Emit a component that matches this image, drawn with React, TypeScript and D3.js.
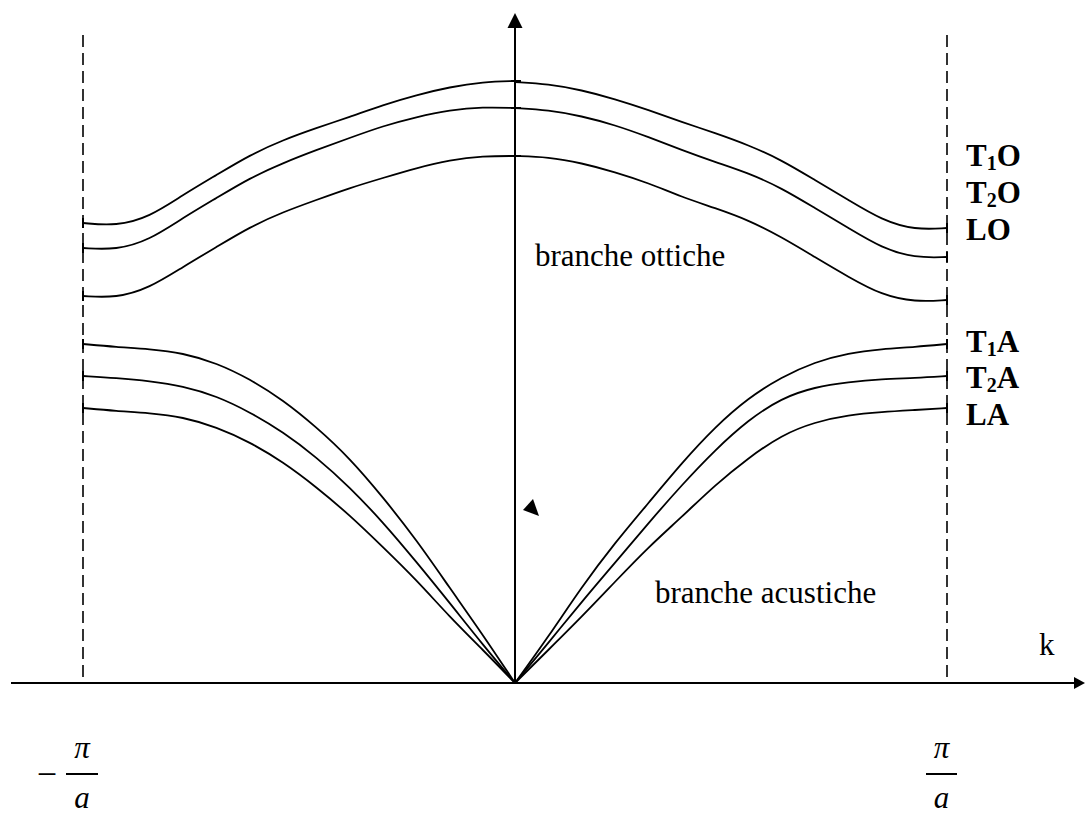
import React from 'react';
import * as d3 from 'd3';

// k grid (units of pi/a), left half and right half of the zone
const kLeft = [-1, -0.923, -0.846, -0.769, -0.691, -0.614, -0.537, -0.46, -0.383, -0.306, -0.228, -0.151, -0.074, 0];
const kRight = [0, 0.077, 0.154, 0.231, 0.309, 0.386, 0.463, 0.54, 0.617, 0.694, 0.772, 0.849, 0.926, 1];

// frequency values (arbitrary units)
const t1oLeft = [460, 457, 466, 488, 508, 528, 543, 555, 566, 578, 588, 596, 601, 602];
const t1oRight = [601, 599, 593, 584, 573, 561, 550, 538, 523, 503, 483, 463, 453, 455];
const t2oLeft = [435, 433, 443, 465, 485, 505, 520, 533, 545, 557, 566, 573, 576, 575];
const t2oRight = [575, 573, 567, 558, 546, 533, 521, 510, 495, 475, 455, 435, 425, 426];
const loLeft = [387, 385, 395, 416, 436, 456, 471, 483, 495, 505, 515, 523, 527, 527];
const loRight = [527, 526, 520, 511, 500, 486, 475, 463, 446, 426, 406, 388, 381, 383];

const t1aLeft = [339, 336, 334, 330, 320, 304, 283, 256, 225, 186, 143, 95, 48, 0];
const t1aRight = [0, 46, 96, 140, 180, 220, 256, 285, 306, 321, 330, 334, 336, 339];
const t2aLeft = [307, 305, 302, 297, 287, 271, 251, 226, 196, 161, 121, 80, 38, 0];
const t2aRight = [0, 40, 81, 120, 160, 198, 233, 263, 285, 296, 301, 304, 305, 307];
const laLeft = [275, 272, 270, 266, 256, 241, 221, 196, 168, 136, 103, 66, 33, 0];
const laRight = [0, 33, 66, 101, 136, 166, 198, 225, 248, 261, 268, 271, 273, 275];

const opticalLeft = [t1oLeft, t2oLeft, loLeft];
const opticalRight = [t1oRight, t2oRight, loRight];
const acousticLeft = [t1aLeft, t2aLeft, laLeft];
const acousticRight = [t1aRight, t2aRight, laRight];

const opticalLabels = [['T', '1', 'O'], ['T', '2', 'O'], ['LO', '', '']];
const acousticLabels = [['T', '1', 'A'], ['T', '2', 'A'], ['LA', '', '']];

const W = 1085;
const H = 817;
const FONT = '"Liberation Serif", "Times New Roman", "DejaVu Serif", serif';

const App = () => {
  const x = d3.scaleLinear().domain([-1, 1]).range([83, 947]);
  const y = d3.scaleLinear().domain([0, 670]).range([683, 13]);
  const x0 = x(0);
  const y0 = y(0);

  const line = d3.line<[number, number]>()
    .x(d => x(d[0]))
    .y(d => y(d[1]))
    .curve(d3.curveBasis);

  const halves: { ks: number[]; vals: number[] }[] = [];
  opticalLeft.concat(acousticLeft).forEach(v => halves.push({ ks: kLeft, vals: v }));
  opticalRight.concat(acousticRight).forEach(v => halves.push({ ks: kRight, vals: v }));

  const optBaselines = [166, 203, 240];
  const acBaselines = [352, 388, 425];

  const renderLabel = (parts: string[], by: number, key: string) => (
    <text key={key} x={966} y={by} fontFamily={FONT} fontWeight="bold" fontSize={31} fill="#000">
      {parts[0]}
      {parts[1] && <tspan fontSize={20} dy={4}>{parts[1]}</tspan>}
      {parts[2] && <tspan dy={-4}>{parts[2]}</tspan>}
    </text>
  );

  return (
    <svg width={W} height={H} style={{ position: 'absolute', left: 0, top: 0, background: '#fff' }}>
      {/* zone boundaries */}
      {[-1, 1].map(k => (
        <line key={k} x1={x(k)} x2={x(k)} y1={35} y2={y0} stroke="#000" strokeWidth={1.6} strokeDasharray="12,6" />
      ))}

      {/* axes */}
      <line x1={11} x2={1076} y1={y0} y2={y0} stroke="#000" strokeWidth={2} />
      <path d={`M1085,${y0} L1074,${y0 - 6} L1074,${y0 + 6} Z`} fill="#000" />
      <line x1={x0} x2={x0} y1={y0} y2={27} stroke="#000" strokeWidth={2} />
      <path d={`M${x0},13 L${x0 - 7.5},28 L${x0 + 7.5},28 Z`} fill="#000" />
      <path d="M523,510 L533,499 L539,516 Z" fill="#000" />

      {/* branches */}
      {halves.map((h, i) => (
        <path
          key={i}
          d={line(h.ks.map((k, j) => [k, h.vals[j]] as [number, number])) || ''}
          fill="none"
          stroke="#000"
          strokeWidth={1.8}
        />
      ))}

      {/* end marks on zone boundaries */}
      {opticalLeft.concat(acousticLeft).map((v, i) => (
        <line key={'l' + i} x1={x(-1)} x2={x(-1)} y1={y(v[0]) - 5} y2={y(v[0]) + 5} stroke="#000" strokeWidth={2} />
      ))}
      {opticalRight.concat(acousticRight).map((v, i) => (
        <line key={'r' + i} x1={x(1)} x2={x(1)} y1={y(v[v.length - 1]) - 5} y2={y(v[v.length - 1]) + 5} stroke="#000" strokeWidth={2} />
      ))}
      {opticalLeft.map((v, i) => (
        <line key={'c' + i} x1={x0 - 4} x2={x0 + 6} y1={y(v[v.length - 1])} y2={y(v[v.length - 1])} stroke="#000" strokeWidth={2} />
      ))}

      {/* branch labels */}
      {opticalLabels.map((p, i) => renderLabel(p, optBaselines[i], 'o' + i))}
      {acousticLabels.map((p, i) => renderLabel(p, acBaselines[i], 'a' + i))}

      <text x={535} y={266} fontFamily={FONT} fontSize={31} fill="#000">branche ottiche</text>
      <text x={655} y={603} fontFamily={FONT} fontSize={31} fill="#000">branche acustiche</text>
      <text x={1039} y={655} fontFamily={FONT} fontSize={31} fill="#000">k</text>

      {/* -pi/a and pi/a */}
      <text x={47} y={786} fontFamily={FONT} fontSize={36} textAnchor="middle" fill="#000">−</text>
      <line x1={66} x2={98} y1={774} y2={774} stroke="#000" strokeWidth={2} />
      <text x={82} y={758} fontFamily={FONT} fontStyle="italic" fontSize={31} textAnchor="middle" fill="#000">π</text>
      <text x={82} y={808} fontFamily={FONT} fontStyle="italic" fontSize={31} textAnchor="middle" fill="#000">a</text>

      <line x1={926} x2={957} y1={774} y2={774} stroke="#000" strokeWidth={2} />
      <text x={941.5} y={758} fontFamily={FONT} fontStyle="italic" fontSize={31} textAnchor="middle" fill="#000">π</text>
      <text x={941.5} y={808} fontFamily={FONT} fontStyle="italic" fontSize={31} textAnchor="middle" fill="#000">a</text>
    </svg>
  );
};

export default App;
